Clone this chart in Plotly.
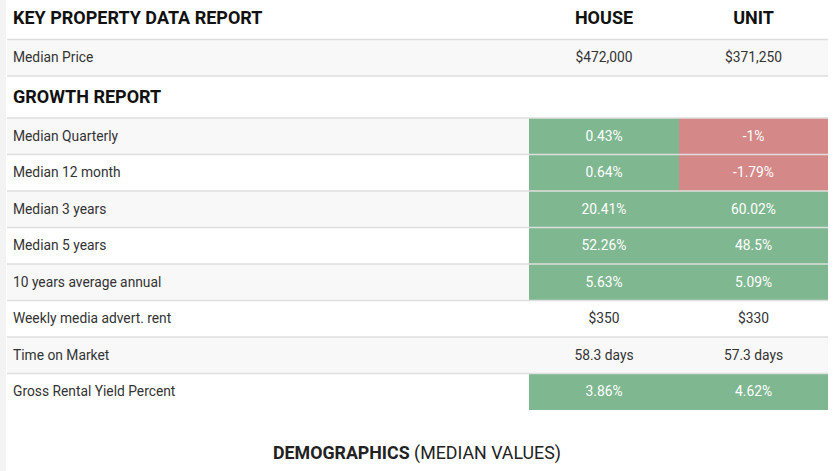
import plotly.graph_objects as go

# ---------------- data ----------------
column_headers = ["KEY PROPERTY DATA REPORT", "HOUSE", "UNIT"]
section_title = "GROWTH REPORT"
price_label = "Median Price"
price_house = "$472,000"
price_unit = "$371,250"

row_labels = ["Median Quarterly", "Median 12 month", "Median 3 years", "Median 5 years",
              "10 years average annual", "Weekly media advert. rent", "Time on Market",
              "Gross Rental Yield Percent"]
house_values = ["0.43%", "0.64%", "20.41%", "52.26%", "5.63%", "$350", "58.3 days", "3.86%"]
unit_values = ["-1%", "-1.79%", "60.02%", "48.5%", "5.09%", "$330", "57.3 days", "4.62%"]
# +1 = growth (green), -1 = decline (red), 0 = neutral
house_trend = [1, 1, 1, 1, 1, 0, 0, 1]
unit_trend = [-1, -1, 1, 1, 1, 0, 0, 1]
footer_bold = "DEMOGRAPHICS"
footer_rest = " (MEDIAN VALUES)"

# ---------------- layout constants ----------------
W, H = 833, 471
TABLE_L, TABLE_R = 7, 828
COL_EDGES = [TABLE_L, 529, 679, TABLE_R]
HEADER_H, PRICE_H, SECTION_H, ROW_H = 39.5, 36.5, 42, 36.5
GREEN = "#7fb791"
RED = "#d48888"
STRIPE = "#f8f8f8"
LINE = "#dedede"
TEXT = "#333333"
FONT = "Roboto, Arial, sans-serif"
BODY_SIZE = 13.8
HEAD_SIZE = 18
TEXT_DY = 1  # small baseline nudge

# row geometry (top, height) derived from order
price_top = HEADER_H
section_top = price_top + PRICE_H
data_top = section_top + SECTION_H
row_tops = [data_top + i * ROW_H for i in range(len(row_labels))]
row_mids = [t + ROW_H / 2 for t in row_tops]
price_mid = price_top + PRICE_H / 2
section_mid = section_top + SECTION_H / 2
header_mid = HEADER_H / 2 - 1

text_rows = [price_mid + TEXT_DY] + [m + TEXT_DY for m in row_mids]

col_centers = [(COL_EDGES[i] + COL_EDGES[i + 1]) / 2 for i in range(3)]
col_widths = [COL_EDGES[i + 1] - COL_EDGES[i] for i in range(3)]

fig = go.Figure()

# striped row backgrounds (price row, then every other data row)
stripe_y = [price_mid] + [row_mids[i] for i in range(0, len(row_labels), 2)]
stripe_h = [PRICE_H] + [ROW_H] * len(stripe_y[1:])
fig.add_trace(go.Bar(
    orientation="h", y=stripe_y, x=[TABLE_R - TABLE_L] * len(stripe_y),
    base=[TABLE_L] * len(stripe_y), width=stripe_h,
    marker=dict(color=STRIPE, line=dict(width=0)), hoverinfo="skip", showlegend=False))

# coloured value cells
def trend_color(t):
    return GREEN if t > 0 else (RED if t < 0 else "rgba(0,0,0,0)")

for col, trend in ((1, house_trend), (2, unit_trend)):
    fig.add_trace(go.Bar(
        orientation="h", y=row_mids, x=[col_widths[col]] * len(row_mids),
        base=[COL_EDGES[col]] * len(row_mids), width=[ROW_H] * len(row_mids),
        marker=dict(color=[trend_color(t) for t in trend], line=dict(width=0)),
        hoverinfo="skip", showlegend=False))

# horizontal separators
sep_y = [HEADER_H, section_top, data_top] + row_tops[1:]
lx, ly = [], []
for y in sep_y:
    lx += [TABLE_L, TABLE_R, None]
    ly += [y, y, None]
fig.add_trace(go.Scatter(x=lx, y=ly, mode="lines", line=dict(color=LINE, width=1.5),
                         hoverinfo="skip", showlegend=False))

# header texts
fig.add_trace(go.Scatter(
    x=[13], y=[header_mid + TEXT_DY], mode="text", text=[f"<b>{column_headers[0]}</b>"],
    textposition="middle right", textfont=dict(family=FONT, size=HEAD_SIZE, color="#111111"),
    hoverinfo="skip", showlegend=False))
fig.add_trace(go.Scatter(
    x=col_centers[1:], y=[header_mid + TEXT_DY] * 2, mode="text",
    text=[f"<b>{h}</b>" for h in column_headers[1:]],
    textposition="middle center", textfont=dict(family=FONT, size=HEAD_SIZE, color="#111111"),
    hoverinfo="skip", showlegend=False))
fig.add_trace(go.Scatter(
    x=[13], y=[section_mid + TEXT_DY], mode="text", text=[f"<b>{section_title}</b>"],
    textposition="middle right", textfont=dict(family=FONT, size=HEAD_SIZE, color="#111111"),
    hoverinfo="skip", showlegend=False))

# row labels
fig.add_trace(go.Scatter(
    x=[13] * (len(row_labels) + 1), y=text_rows, mode="text",
    text=[price_label] + row_labels, textposition="middle right",
    textfont=dict(family=FONT, size=BODY_SIZE, color=TEXT), hoverinfo="skip", showlegend=False))

# values
for col, vals, trend, pv in ((1, house_values, house_trend, price_house),
                              (2, unit_values, unit_trend, price_unit)):
    fig.add_trace(go.Scatter(
        x=[col_centers[col]] * (len(vals) + 1), y=text_rows, mode="text",
        text=[pv] + vals, textposition="middle center",
        textfont=dict(family=FONT, size=BODY_SIZE,
                      color=[TEXT] + ["#ffffff" if t != 0 else TEXT for t in trend]),
        hoverinfo="skip", showlegend=False))

# footer
fig.add_annotation(x=W / 2, y=452 + TEXT_DY, xref="x", yref="y",
                   text=f"<b>{footer_bold}</b>{footer_rest}", showarrow=False,
                   font=dict(family=FONT, size=17.8, color="#222222"))

# left page strip
fig.add_shape(type="rect", xref="x", yref="y", x0=0, x1=TABLE_L - 1, y0=0, y1=H,
              fillcolor="#f3f3f3", line=dict(width=0), layer="below")

fig.update_layout(
    width=W, height=H, margin=dict(l=0, r=0, t=0, b=0),
    paper_bgcolor="white", plot_bgcolor="white", barmode="overlay", bargap=0,
    xaxis=dict(range=[0, W], visible=False, fixedrange=True),
    yaxis=dict(range=[H, 0], visible=False, fixedrange=True),
    hovermode=False,
)

fig.write_html("out.html", config={"displayModeBar": False},
               post_script="document.body.style.margin='0';document.body.style.overflow='hidden';")
